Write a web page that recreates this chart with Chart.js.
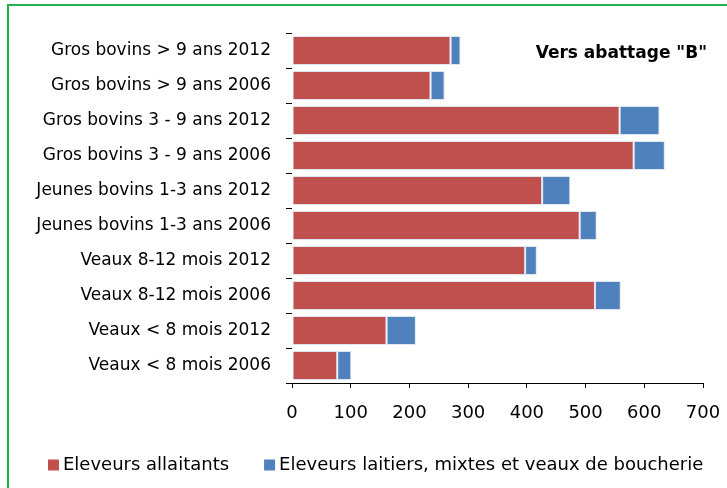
<!DOCTYPE html>
<html>
<head>
<meta charset="utf-8">
<script src="https://cdn.jsdelivr.net/npm/chart.js@4"></script>
<style>
html,body{margin:0;padding:0;background:#fff;width:727px;height:488px;overflow:hidden;}
#frame{position:absolute;left:7px;top:4px;width:900px;height:700px;border:2px solid #22b14c;box-sizing:border-box;}
#wrap{position:absolute;left:0;top:0;width:727px;height:488px;}
</style>
</head>
<body>
<div id="frame"></div>
<div id="wrap"><canvas id="c" width="727" height="488"></canvas></div>
<script>
const categories = [
  "Gros bovins > 9 ans 2012",
  "Gros bovins > 9 ans 2006",
  "Gros bovins 3 - 9 ans 2012",
  "Gros bovins 3 - 9 ans 2006",
  "Jeunes bovins 1-3 ans 2012",
  "Jeunes bovins 1-3 ans 2006",
  "Veaux 8-12 mois 2012",
  "Veaux 8-12 mois 2006",
  "Veaux < 8 mois 2012",
  "Veaux < 8 mois 2006"
];
const allaitants = [270, 236, 558, 582, 426, 490, 397, 516, 161, 77];
const laitiers = [17, 24, 68, 53, 48, 29, 20, 44, 50, 24];
const seriesNames = ["Eleveurs allaitants", "Eleveurs laitiers, mixtes et veaux de boucherie"];
const chartTitle = 'Vers abattage "B"';
const xMin = 0, xMax = 700, xStep = 100;

const titlePlugin = {
  id: 'cornerTitle',
  afterDraw(chart) {
    const {ctx, chartArea} = chart;
    ctx.save();
    ctx.font = 'bold 17px "DejaVu Sans"';
    ctx.fillStyle = '#000';
    ctx.textAlign = 'right';
    ctx.textBaseline = 'alphabetic';
    ctx.fillText(chartTitle, chartArea.right + 4, chartArea.top + 25);
    ctx.restore();
  }
};

// Legend drawn at the bottom, items laid out from the dataset labels/colours
const legendPlugin = {
  id: 'bottomLegend',
  afterDraw(chart) {
    const {ctx} = chart;
    ctx.save();
    ctx.font = '18px "DejaVu Sans"';
    ctx.textBaseline = 'middle';
    ctx.textAlign = 'left';
    const yMid = 465, box = 11, boxGap = 4, itemGap = 35;
    let x = 48;
    chart.data.datasets.forEach(ds => {
      ctx.fillStyle = ds.backgroundColor;
      ctx.fillRect(x, yMid - box / 2, box, box);
      x += box + boxGap;
      ctx.fillStyle = '#000';
      ctx.fillText(ds.label, x, yMid);
      x += ctx.measureText(ds.label).width + itemGap;
    });
    ctx.restore();
  }
};

new Chart(document.getElementById('c'), {
  type: 'bar',
  data: {
    labels: categories,
    datasets: [
      {label: seriesNames[0], data: allaitants, backgroundColor: '#c0504d', borderColor: '#dde5ef', borderWidth: 1, borderSkipped: false, barPercentage: 0.83, categoryPercentage: 1},
      {label: seriesNames[1], data: laitiers, backgroundColor: '#4f81bd', borderColor: '#dde5ef', borderWidth: 1, borderSkipped: false, barPercentage: 0.83, categoryPercentage: 1}
    ]
  },
  options: {
    indexAxis: 'y',
    responsive: false,
    animation: false,
    devicePixelRatio: 1,
    layout: {padding: {left: 0, right: 24, top: 33, bottom: 55}},
    plugins: {
      legend: {display: false},
      tooltip: {enabled: false},
      title: {display: false}
    },
    scales: {
      x: {
        stacked: true,
        min: xMin, max: xMax,
        ticks: {stepSize: xStep, color: '#000', font: {family: 'DejaVu Sans', size: 18, lineHeight: 2.85}, padding: 0},
        grid: {drawOnChartArea: false, drawTicks: true, tickLength: 5, color: '#000'},
        border: {display: true, color: '#000', width: 1},
        afterFit(scale) { scale.height = 50; }
      },
      y: {
        stacked: true,
        ticks: {color: '#000', font: {family: 'DejaVu Sans', size: 17}, padding: 15, autoSkip: false},
        grid: {offset: true, drawOnChartArea: false, drawTicks: true, tickLength: 6, color: '#000'},
        border: {display: false},
        afterFit(scale) { scale.width = 292; }
      }
    }
  },
  plugins: [titlePlugin, legendPlugin]
});
</script>
</body>
</html>
